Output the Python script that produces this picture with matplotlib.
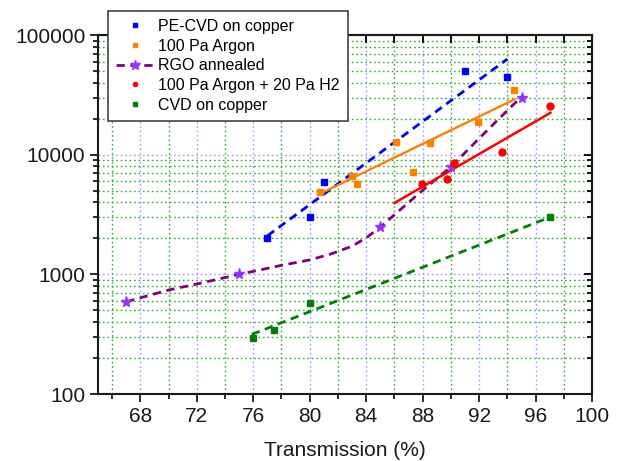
import matplotlib
matplotlib.use("Agg")
import matplotlib.pyplot as plt
from matplotlib.lines import Line2D
from matplotlib.ticker import FixedLocator, NullFormatter

plt.rcParams['font.family'] = ['Liberation Sans', 'DejaVu Sans']

# ---- data ----
pe_x = [77, 80, 81, 91, 94]
pe_y = [2000, 3000, 5900, 50000, 44500]
pe_fit_x = [77, 94]
pe_fit_y = [2100, 63000]

ar_x = [80.7, 83.0, 83.35, 86.1, 87.3, 88.5, 91.9, 94.5]
ar_y = [4850, 6650, 5650, 12700, 7100, 12600, 18800, 34500]
ar_fit_x = [80.7, 94.5]
ar_fit_y = [4700, 29000]

rgo_x = [67, 75, 85, 90, 95]
rgo_y = [590, 1000, 2480, 7900, 30000]
rgo_curve_x = [67, 70, 72, 75, 78, 80, 81.5, 83, 84, 85, 86, 88, 90, 92, 94.5, 95]
rgo_curve_y = [590, 740, 830, 1000, 1190, 1320, 1480, 1720, 2020, 2480, 3150, 5050, 7900, 13700, 26800, 30000]

h2_x = [87.95, 89.7, 90.2, 93.6, 97.0]
h2_y = [5700, 6300, 8600, 10500, 25500]
h2_fit_x = [86.0, 97.05]
h2_fit_y = [3950, 22400]

cvd_x = [76, 77.5, 80, 97]
cvd_y = [295, 340, 580, 3000]
cvd_fit_x = [75.9, 97]
cvd_fit_y = [315, 3000]

labels = ["PE-CVD on copper", "100 Pa Argon", "RGO annealed",
          "100 Pa Argon + 20 Pa H2", "CVD on copper"]
xticks = [68, 72, 76, 80, 84, 88, 92, 96, 100]
yticks = [100, 1000, 10000, 100000]
ytick_labels = ["100", "1000", "10000", "100000"]

c_blue = "#0000ff"
c_orange = "#ff8000"
c_purple = "#800080"
c_star = "#9933ff"
c_red = "#ff0000"
c_green = "#008000"

fig = plt.figure(figsize=(6.2, 4.61), dpi=100)
ax = fig.add_axes([0.158, 0.1453, 0.797, 0.7787])
ax.set_yscale('log')
ax.set_xlim(65, 100)
ax.set_ylim(100, 100000)

# grids
minor_x = [66, 70, 74, 78, 82, 86, 90, 94, 98]
minor_y = [m * 10 ** e for e in (2, 3, 4) for m in range(2, 10)]
for xv in xticks[:-1]:
    ax.axvline(xv, color="#9999ff", ls=(0, (1.2, 2)), lw=1.0, zorder=0)
for xv in minor_x:
    ax.axvline(xv, color="#33aa33", ls=(0, (1.2, 2)), lw=1.0, zorder=0)
for yv in [1000, 10000]:
    ax.axhline(yv, color="#9999ff", ls=(0, (1.2, 2)), lw=1.0, zorder=0)
for yv in minor_y:
    ax.axhline(yv, color="#33aa33", ls=(0, (1.2, 2)), lw=1.0, zorder=0)

# lines
ax.plot(pe_fit_x, pe_fit_y, color=c_blue, ls=(0, (3, 2)), lw=2, zorder=3)
ax.plot(ar_fit_x, ar_fit_y, color=c_orange, ls='-', lw=1.7, zorder=3)
ax.plot(rgo_curve_x, rgo_curve_y, color=c_purple, ls=(0, (3, 2)), lw=2, zorder=3)
ax.plot(h2_fit_x, h2_fit_y, color=c_red, ls='-', lw=1.8, zorder=3)
ax.plot(cvd_fit_x, cvd_fit_y, color=c_green, ls=(0, (3, 2)), lw=2, zorder=3)

# markers
ax.plot(pe_x, pe_y, 's', color=c_blue, ms=5, ls='none', zorder=4)
ax.plot(ar_x, ar_y, 's', color=c_orange, ms=5, ls='none', zorder=4)
ax.plot(rgo_x, rgo_y, '*', color=c_star, ms=8, ls='none', zorder=4)
ax.plot(h2_x, h2_y, 'o', color=c_red, ms=5, ls='none', zorder=4)
ax.plot(cvd_x, cvd_y, 's', color=c_green, ms=5, ls='none', zorder=4)

# ticks
ax.xaxis.set_major_locator(FixedLocator(xticks))
ax.xaxis.set_minor_locator(FixedLocator(minor_x))
ax.set_xticklabels([str(v) for v in xticks])
ax.yaxis.set_major_locator(FixedLocator(yticks))
ax.yaxis.set_minor_locator(FixedLocator(minor_y))
ax.set_yticklabels(ytick_labels)
ax.yaxis.set_minor_formatter(NullFormatter())
ax.tick_params(which='both', direction='out', top=False, right=False,
               labelsize=15, colors='#1a1a1a', width=1.3)
ax.tick_params(which='major', length=6, pad=3)
ax.tick_params(which='minor', length=3.5)

sec_x = ax.secondary_xaxis('top')
sec_x.xaxis.set_major_locator(FixedLocator(xticks))
sec_x.xaxis.set_minor_locator(FixedLocator(minor_x))
sec_x.tick_params(which='both', direction='in', labeltop=False, width=1.3)
sec_x.tick_params(which='major', length=6)
sec_x.tick_params(which='minor', length=6)
sec_x.spines['top'].set_linewidth(1.5)
sec_y = ax.secondary_yaxis('right')
sec_y.yaxis.set_major_locator(FixedLocator(yticks))
sec_y.yaxis.set_minor_locator(FixedLocator(minor_y))
sec_y.yaxis.set_minor_formatter(NullFormatter())
sec_y.tick_params(which='both', direction='in', labelright=False, width=1.3)
sec_y.tick_params(which='major', length=6)
sec_y.tick_params(which='minor', length=3.5)
sec_y.spines['right'].set_linewidth(1.5)

for s in ax.spines.values():
    s.set_linewidth(1.5)
    s.set_color('#1a1a1a')

ax.set_xlabel("Transmission (%)", fontsize=15, color='#1a1a1a', labelpad=11)

# legend
handles = [
    Line2D([], [], ls='none', marker='s', color=c_blue, ms=3),
    Line2D([], [], ls='none', marker='s', color=c_orange, ms=3),
    Line2D([], [], ls=(0, (3, 2)), lw=2, color=c_purple, marker='*',
           mfc=c_star, mec=c_star, ms=7),
    Line2D([], [], ls='none', marker='o', color=c_red, ms=3),
    Line2D([], [], ls='none', marker='s', color=c_green, ms=3),
]
leg = fig.legend(handles, labels, loc='upper left',
                 bbox_to_anchor=(108 / 620, 1 - 11 / 461),
                 bbox_transform=fig.transFigure, fontsize=11.5,
                 frameon=True, fancybox=False, edgecolor='#444444',
                 framealpha=1, borderpad=0.5, labelspacing=0.29,
                 handlelength=2.4, handletextpad=0.25, borderaxespad=0)
leg.get_frame().set_linewidth(1.2)
leg.set_zorder(10)

fig.savefig("out.png", dpi=100)
